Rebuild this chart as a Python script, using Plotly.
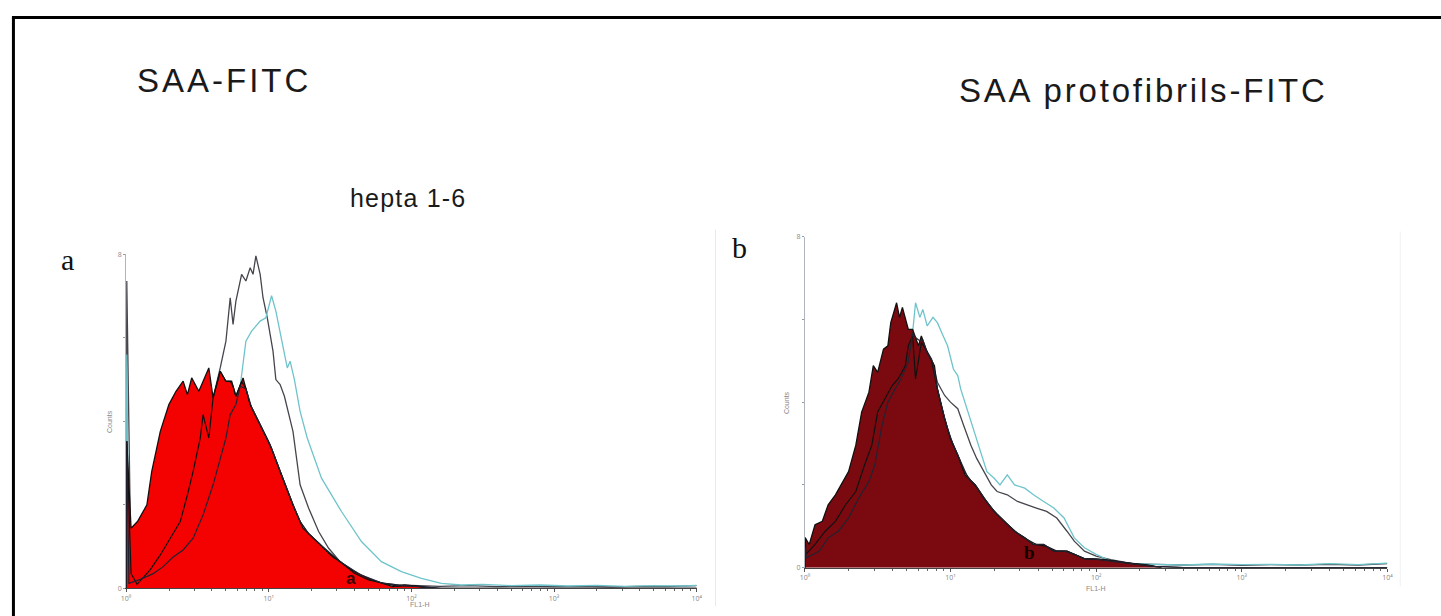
import numpy as np
import plotly.graph_objects as go

# ---------------- data (x in decades of FL1-H, y in % of axis height) ----------------
# Panel a (SAA-FITC, hepta 1-6)
a_red_d = [0.0, 0.005, 0.035, 0.08, 0.146, 0.18, 0.24, 0.30, 0.35, 0.40, 0.43, 0.46, 0.51, 0.58, 0.61,
           0.66, 0.70, 0.74, 0.77, 0.82, 0.87, 0.94, 1.01, 1.08, 1.17, 1.24, 1.34, 1.45, 1.50, 1.60,
           1.71, 1.80, 1.87, 1.95, 2.05, 2.12]
a_red_v = [0, 44, 18, 20, 25, 35, 47, 55, 59, 62, 58, 63, 59, 66, 57,
           65, 62, 62, 57.5, 63, 55, 49, 43, 35, 25, 18, 14, 9.4, 8, 5,
           2.7, 1.5, 0.5, 1, 0.6, 0]

a_gray_d = [0.0, 0.005, 0.035, 0.077, 0.17, 0.24, 0.31, 0.38, 0.43, 0.47, 0.52, 0.54, 0.58, 0.61, 0.66,
            0.70, 0.73, 0.75, 0.77, 0.81, 0.84, 0.87, 0.89, 0.91, 0.94, 0.96, 0.99, 1.03, 1.05, 1.08,
            1.11, 1.17, 1.22, 1.28, 1.35, 1.42, 1.50, 1.60, 1.70, 1.80, 1.90, 2.0, 2.2, 2.4, 2.6,
            2.8, 3.0, 3.2, 3.4, 3.6, 3.8, 4.0]
a_gray_v = [0, 92, 4.4, 1.2, 5.6, 10, 15, 20, 28, 35, 45, 52, 45, 57, 66,
            74, 87, 79, 86, 94, 92, 96, 94, 99.5, 94, 87, 81, 71, 62.5, 61,
            57.5, 47, 31, 24, 17, 12, 8, 4.5, 2.5, 1.5, 1, 0.8, 0.6, 0.8, 0.5,
            0.7, 0.5, 0.6, 0.4, 0.6, 0.5, 0.8]

a_cyan_d = [0.0, 0.005, 0.02, 0.10, 0.19, 0.26, 0.33, 0.40, 0.47, 0.54, 0.61, 0.66, 0.70, 0.73, 0.77,
            0.80, 0.84, 0.88, 0.94, 0.98, 1.02, 1.05, 1.09, 1.13, 1.15, 1.18, 1.22, 1.27, 1.37, 1.51,
            1.65, 1.79, 1.93, 2.07, 2.21, 2.35, 2.5, 2.7, 2.9, 3.1, 3.3, 3.5, 3.7, 3.9, 4.0]
a_cyan_v = [0, 70, 1.5, 2.7, 4.4, 6.5, 9.4, 11.5, 15, 22, 31, 39, 45, 52, 55,
            60.5, 74, 77, 80, 81, 87.6, 83, 74, 66, 68, 62.5, 53, 45, 33, 23,
            14, 8, 5, 3, 1.5, 1.0, 1.2, 0.8, 1.0, 0.7, 0.9, 0.6, 0.8, 0.7, 0.9]

# Panel b (SAA protofibrils-FITC)
b_red_d = [0.0, 0.003, 0.03, 0.07, 0.12, 0.16, 0.21, 0.25, 0.30, 0.35, 0.39, 0.44, 0.47, 0.50, 0.54,
           0.57, 0.59, 0.63, 0.65, 0.67, 0.71, 0.74, 0.78, 0.80, 0.84, 0.89, 0.91, 0.96, 1.00, 1.06,
           1.10, 1.17, 1.23, 1.30, 1.37, 1.44, 1.51, 1.57, 1.64, 1.71, 1.80, 1.92, 2.05, 2.2, 2.35, 2.45]
b_red_v = [0, 9, 7, 13, 14, 19, 22, 25, 29, 37, 47, 53, 61, 59, 66,
           67, 74, 80, 75.6, 78.6, 72, 72, 67, 70, 65, 61, 54, 45, 39, 33,
           28, 25, 21, 17, 14, 11, 9, 7, 7, 5, 5, 2.7, 2.5, 1.5, 0.8, 0]

b_gray_d = [0.0, 0.003, 0.007, 0.07, 0.14, 0.21, 0.28, 0.35, 0.41, 0.46, 0.50, 0.55, 0.60, 0.64, 0.69,
            0.71, 0.74, 0.76, 0.80, 0.83, 0.87, 0.91, 0.96, 1.00, 1.05, 1.09, 1.14, 1.18, 1.23, 1.28,
            1.32, 1.39, 1.46, 1.52, 1.59, 1.66, 1.73, 1.80, 1.85, 1.92, 2.00, 2.10, 2.25, 2.4, 2.6,
            2.8, 3.0, 3.2, 3.4, 3.6, 3.8, 4.0]
b_gray_v = [0, 9, 4, 7, 11, 14, 19, 23, 31, 37, 47, 51, 55, 57, 61,
            67, 70, 57, 68, 66, 63, 56, 52, 50, 48, 43, 37, 33, 29, 25,
            23, 22, 20, 19, 18, 17, 15, 11, 8, 5, 3.5, 2.4, 1.2, 1.0, 0.8,
            1.0, 0.7, 0.9, 0.8, 1.0, 0.8, 1.2]

b_cyan_d = [0.0, 0.003, 0.01, 0.10, 0.16, 0.23, 0.30, 0.37, 0.44, 0.48, 0.53, 0.57, 0.62, 0.66, 0.71,
            0.74, 0.76, 0.79, 0.81, 0.84, 0.88, 0.91, 0.95, 0.98, 1.02, 1.05, 1.07, 1.12, 1.17, 1.21,
            1.25, 1.30, 1.34, 1.39, 1.44, 1.51, 1.57, 1.64, 1.71, 1.78, 1.85, 1.92, 2.0, 2.1, 2.25,
            2.4, 2.6, 2.8, 3.0, 3.2, 3.4, 3.6, 3.8, 4.0]
b_cyan_v = [0, 6, 3, 5, 9, 11, 15, 21, 26, 31, 43, 50, 54, 57, 62,
            71, 80, 75.6, 78, 73, 75.6, 74, 70, 67, 60, 58, 54, 47, 40, 34,
            29, 27, 25, 28, 25, 24, 22, 20, 18, 15, 9, 6, 4, 2, 1.2,
            1.0, 0.8, 1.1, 0.9, 1.0, 0.8, 1.2, 0.9, 1.4]

x_tick_vals = [1, 10, 100, 1000, 10000]
x_tick_text = ["10⁰", "10¹", "10²", "10³", "10⁴"]
y_tick_vals = [0, 100]
y_tick_text = ["0", "8"]

W, H = 1441, 616
RED = "#F40202"
DARKRED = "#7A0A0F"
CYAN = "#6EC4CA"
GRAY = "#45454D"


def px(x):
    return x / W


def py(y):
    return 1 - y / H


fig = go.Figure()


def add_panel(xa, ya, red_d, red_v, red_col, gray_d, gray_v, cyan_d, cyan_v):
    xr = np.power(10.0, red_d)
    xg = np.power(10.0, gray_d)
    xc = np.power(10.0, cyan_d)
    common = dict(xaxis=xa, yaxis=ya, mode="lines", showlegend=False, hoverinfo="skip")
    fig.add_trace(go.Scatter(x=xg, y=gray_v, line=dict(color=GRAY, width=1.3), **common))
    fig.add_trace(go.Scatter(x=xc, y=cyan_v, line=dict(color=CYAN, width=1.3), **common))
    fig.add_trace(go.Scatter(x=xr, y=red_v, fill="tozeroy", fillcolor=red_col,
                             line=dict(color="#111111", width=1.3), **common))
    # part of the outlines seen through the filled histogram
    g_under = np.minimum(gray_v, np.interp(gray_d, red_d, red_v))
    c_under = np.minimum(cyan_v, np.interp(cyan_d, red_d, red_v))
    fig.add_trace(go.Scatter(x=xg, y=g_under, line=dict(color="#111111", width=1.2), **common))
    fig.add_trace(go.Scatter(x=xc, y=c_under, line=dict(color="#222230", width=1.2), **common))


add_panel("x", "y", a_red_d, a_red_v, RED, a_gray_d, a_gray_v, a_cyan_d, a_cyan_v)
add_panel("x2", "y2", b_red_d, b_red_v, DARKRED, b_gray_d, b_gray_v, b_cyan_d, b_cyan_v)

xaxis_common = dict(type="log", range=[0, 4], showline=True, linecolor="#444", linewidth=1,
                    ticks="outside", ticklen=3, tickcolor="#555", tickvals=x_tick_vals,
                    ticktext=x_tick_text, tickfont=dict(size=7, color="#888"),
                    showgrid=False, zeroline=False,
                    minor=dict(ticks="outside", ticklen=2, tickcolor="#666", dtick="D1", showgrid=False))
yaxis_common = dict(range=[0, 100], showline=True, linecolor="#B0B4BC", linewidth=1,
                    ticks="outside", ticklen=2, tickcolor="#999", tickvals=y_tick_vals,
                    ticktext=y_tick_text, tickfont=dict(size=7, color="#888"),
                    showgrid=False, zeroline=False,
                    minor=dict(ticks="outside", ticklen=2, tickcolor="#999", dtick=25, tick0=0,
                               showgrid=False))

fig.update_layout(
    width=W, height=H, margin=dict(l=0, r=0, t=0, b=0),
    paper_bgcolor="white", plot_bgcolor="rgba(0,0,0,0)",
    xaxis=dict(domain=[px(122), px(697)], anchor="y", **xaxis_common),
    yaxis=dict(domain=[py(592), py(253)], anchor="x", **yaxis_common),
    xaxis2=dict(domain=[px(806), px(1393)], anchor="y2", **xaxis_common),
    yaxis2=dict(domain=[py(571), py(235)], anchor="x2", **yaxis_common),
)

ann = []


def text(x, y, s, size, family="Liberation Sans, Arial", color="#1a1a1a", angle=0,
         spacing=None):
    if spacing:
        s = '<span style="letter-spacing:%.1fpx">%s</span>' % (spacing, s)
    ann.append(dict(x=px(x), y=py(y), xref="paper", yref="paper", text=s, showarrow=False,
                    font=dict(size=size, family=family, color=color), textangle=angle,
                    xanchor="center", yanchor="middle"))


text(221, 77, "SAA-FITC", 33, spacing=3)
text(1147, 87, "SAA protofibrils-FITC", 33, spacing=2.8)
text(406, 196, "hepta 1-6", 25, spacing=1.2)
text(63, 258, "a", 30, family="Liberation Serif, Times New Roman", color="#111")
text(740, 246, "b", 30, family="Liberation Serif, Times New Roman", color="#111")
text(349, 582, "<b>a</b>", 17, family="Liberation Sans, Arial", color="#3a0000")
text(1032, 556, "<b>b</b>", 19, family="Liberation Serif, Times New Roman", color="#150000")
text(418, 608, "FL1-H", 7, color="#888")
text(1099, 592, "FL1-H", 7, color="#888")
text(106, 423, "Counts", 7, color="#888", angle=-90)
text(787, 403, "Counts", 7, color="#888", angle=-90)
fig.update_layout(annotations=ann)

shapes = [
    # outer frame of the figure
    dict(type="line", xref="paper", yref="paper", x0=px(8.5), x1=px(8.5), y0=py(12.8), y1=-0.05,
         line=dict(color="black", width=3)),
    dict(type="line", xref="paper", yref="paper", x0=px(7), x1=1.05, y0=py(12.8), y1=py(12.8),
         line=dict(color="black", width=3)),
    # faint edges of the pasted panel b image
    dict(type="line", xref="paper", yref="paper", x0=px(716), x1=px(716), y0=py(228), y1=py(610),
         line=dict(color="#E6E9F0", width=1)),
    dict(type="line", xref="paper", yref="paper", x0=px(1406), x1=px(1406), y0=py(230), y1=py(590),
         line=dict(color="#F0F1F4", width=1)),
]
fig.update_layout(shapes=shapes)

fig.write_html("out.html")
